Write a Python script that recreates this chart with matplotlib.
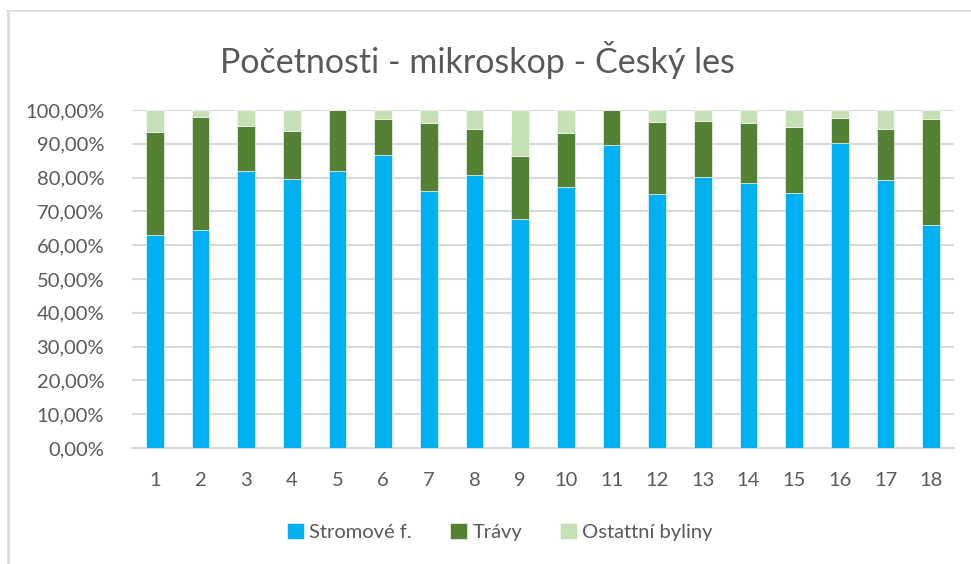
import numpy as np
import matplotlib
matplotlib.use("Agg")
import matplotlib.pyplot as plt
from matplotlib.lines import Line2D
from matplotlib.ticker import FuncFormatter

plt.rcParams["font.family"] = ["Lato", "DejaVu Sans"]

# values (% of sample)
categories = [str(i) for i in range(1, 19)]
stromove = [63.0, 64.6, 82.0, 79.6, 82.0, 86.6, 76.1, 80.7, 67.8,
            77.2, 89.7, 75.1, 80.3, 78.3, 75.4, 90.2, 79.2, 65.9]
stromove_travy = [93.4, 97.8, 95.4, 93.9, 100.0, 97.2, 96.3, 94.5, 86.4,
                  93.1, 100.0, 96.5, 96.8, 96.3, 95.0, 97.5, 94.4, 97.3]
travy = [b - a for a, b in zip(stromove, stromove_travy)]
ostatni = [100.0 - b for b in stromove_travy]
series_names = ["Stromové f.", "Trávy", "Ostattní byliny"]
colors = ["#00b0f0", "#548235", "#c5e0b4"]
text_col = "#595959"

fig = plt.figure(figsize=(9.71, 5.64), dpi=100)
ax = fig.add_axes([132/971, 1 - 448/564, 822/971, 338/564])

x = np.arange(len(categories))
w = 0.39
bottom = np.zeros(len(categories))
for vals, name, c in zip([stromove, travy, ostatni], series_names, colors):
    ax.bar(x, vals, w, bottom=bottom, color=c, label=name, zorder=3,
           edgecolor="white", linewidth=0.4)
    bottom += np.array(vals)

ax.set_xlim(-0.5, len(categories) - 0.5)
ax.set_ylim(0, 100)
ax.set_yticks(np.arange(0, 101, 10))
ax.yaxis.set_major_formatter(FuncFormatter(lambda v, p: f"{v:.2f}%".replace(".", ",")))
ax.set_xticks(x)
ax.set_xticklabels(categories)
ax.grid(axis="y", color="#d9d9d9", linewidth=1.5, zorder=0)
for s in ["top", "right", "left"]:
    ax.spines[s].set_visible(False)
ax.spines["bottom"].set_color("#d9d9d9")
ax.spines["bottom"].set_linewidth(1.5)
ax.tick_params(length=0, labelsize=14.5, colors=text_col)
ax.tick_params(axis="x", pad=17)
ax.tick_params(axis="y", pad=20)

fig.text(477/971, 1 - 60/564, "Početnosti - mikroskop - Český les", ha="center",
         va="center", fontsize=24.5, color=text_col)

fig.legend(loc="center", bbox_to_anchor=(500/971, 1 - 532/564), ncol=3,
           frameon=False, fontsize=14.5, handlelength=0.85, handleheight=0.85,
           handletextpad=0.25, columnspacing=1.9, labelcolor=text_col)

# chart frame: only top and left edges show in the reference
fig.add_artist(Line2D([7/971, 1], [1 - 11/564, 1 - 11/564], transform=fig.transFigure,
                      color="#d9d9d9", linewidth=1.2))
fig.add_artist(Line2D([7.5/971, 7.5/971], [0, 1 - 11/564], transform=fig.transFigure,
                      color="#d9d9d9", linewidth=1.8))

fig.savefig("out.png", dpi=100)
